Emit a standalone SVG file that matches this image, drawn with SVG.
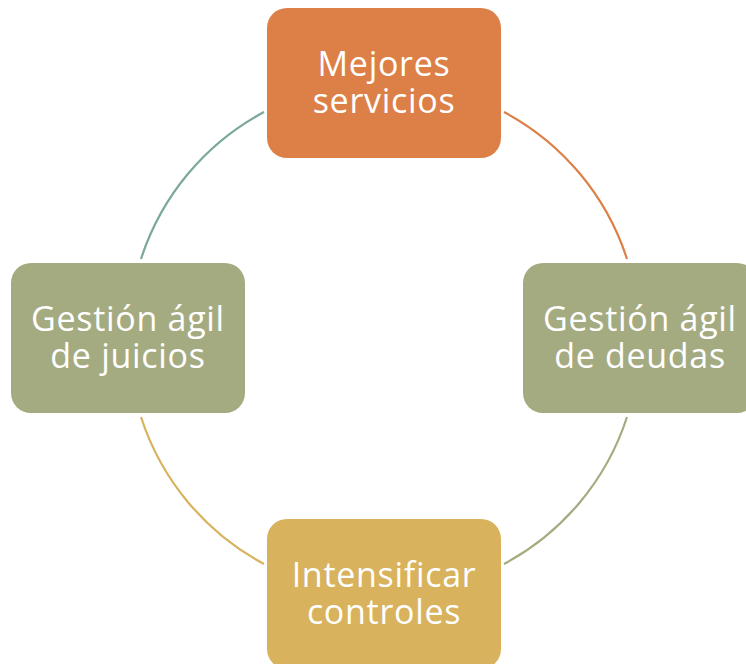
<svg xmlns="http://www.w3.org/2000/svg" width="746" height="664" viewBox="0 0 746 664">
<style>
.lbl{font-family:"Open Sans","Noto Sans","DejaVu Sans",sans-serif;font-size:34px;fill:#ffffff;text-anchor:middle;font-variant-ligatures:none;letter-spacing:0.7px}
.arc{fill:none;stroke-width:2.2}
</style>
<rect width="746" height="664" fill="#ffffff"/>
<g id="connectors">
<path class="arc" stroke="#DD8047" d="M504,112 A256,256 0 0 1 627,259"/>
<path class="arc" stroke="#A5AB81" d="M627,417 A256,256 0 0 1 504,564"/>
<path class="arc" stroke="#D8B25C" d="M264,564 A256,256 0 0 1 141,417"/>
<path class="arc" stroke="#7BA79D" d="M141,259 A256,256 0 0 1 264,112"/>
</g>
<g id="node-top">
<rect x="267" y="8" width="234" height="150" rx="20" fill="#DD8047"/>
<text class="lbl" x="384" y="76">Mejores</text>
<text class="lbl" x="384" y="113">servicios</text>
</g>
<g id="node-right">
<rect x="523" y="263" width="234" height="150" rx="20" fill="#A5AB81"/>
<text class="lbl" x="640" y="331">Gestión ágil</text>
<text class="lbl" x="640" y="368">de deudas</text>
</g>
<g id="node-bottom">
<rect x="267" y="519" width="234" height="150" rx="20" fill="#D8B25C"/>
<text class="lbl" x="384" y="587">Intensificar</text>
<text class="lbl" x="384" y="624">controles</text>
</g>
<g id="node-left">
<rect x="11" y="263" width="234" height="150" rx="20" fill="#A5AB81"/>
<text class="lbl" x="128" y="331">Gestión ágil</text>
<text class="lbl" x="128" y="368">de juicios</text>
</g>
</svg>
